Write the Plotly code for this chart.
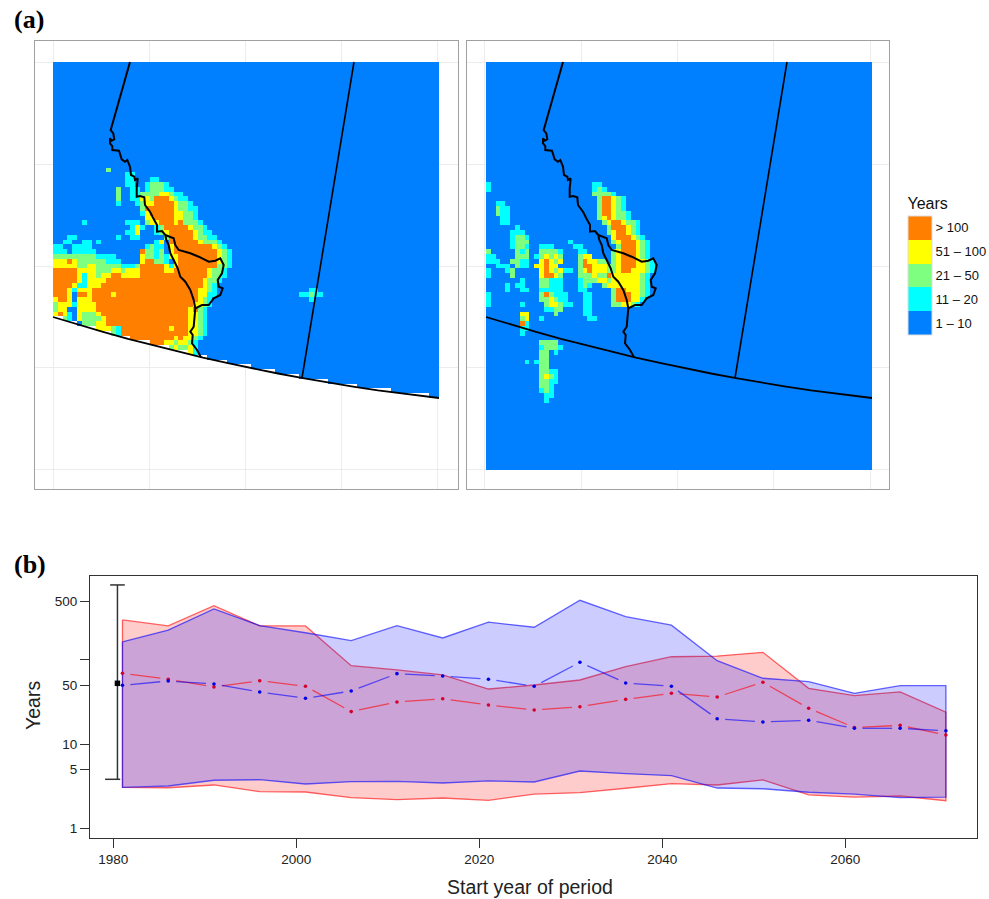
import re
import math
import plotly.graph_objects as go

# ---------- panel (b) data ----------
years = [1981, 1986, 1991, 1996, 2001, 2006, 2011, 2016, 2021, 2026, 2031, 2036, 2041, 2046, 2051, 2056, 2061, 2066, 2071]
red_upper = [298, 253, 440, 253, 253, 85.3, 75.9, 66.2, 45.1, 50.3, 57.7, 83, 109, 111, 123, 46, 37.6, 41.6, 23.9]
blue_upper = [164, 226, 402, 255, 210, 169, 255, 182, 280, 244, 510, 326, 258, 97.8, 60.5, 55.1, 40.1, 49.4, 49.4]
red_lower = [3.07, 3.03, 3.27, 2.72, 2.70, 2.31, 2.19, 2.29, 2.15, 2.55, 2.65, 2.99, 3.39, 3.27, 3.75, 2.49, 2.35, 2.42, 2.13]
blue_lower = [3.07, 3.18, 3.72, 3.78, 3.36, 3.58, 3.61, 3.45, 3.65, 3.55, 4.79, 4.45, 4.22, 3.01, 2.95, 2.68, 2.55, 2.31, 2.35]
red_mid = [69.3, 58.9, 47.7, 56.6, 48.6, 24.3, 31.6, 34.6, 29.1, 25.4, 27.8, 34.0, 40.1, 36.3, 54.2, 26.6, 15.7, 16.7, 12.8]
blue_mid = [49.9, 56.1, 51.8, 41.6, 35.0, 42.7, 68.6, 64.4, 58.9, 48.6, 93.6, 53.2, 48.6, 20.0, 18.3, 19.2, 15.4, 15.4, 14.4]
obs_year = 1980.45
obs_low, obs_mean, obs_high = 3.82, 52.7, 776
x_ticks = [1980, 2000, 2020, 2040, 2060]
y_ticks = [1, 5, 10, 50, 100, 500, 1000]
y_tick_text = ["1", "5", "10", "50", "", "500", ""]

# ---------- panel (a) data: run-length rows of map cells ----------
N_COLS, N_ROWS = 80, 85
categories = ["1 \u2013 10", "11 \u2013 20", "21 \u2013 50", "51 \u2013 100", "> 100"]
category_colors = ["#007FFF", "#00FFFF", "#7FFF7F", "#FFFF00", "#FF7F00"]

left_start_row = 22
left_rows = [
    "11. g", "15. 2c", "15. 2c 3. 2c", "15. 2c 2. c 3g c", "13. g 2. 2c . c 3g 2c",
    "13. g 2. 2c 4g 2y g 2c", "13. g 2. 2c 2y g 3o y g 2c", "13. c 3. c g 2y 4o y 2g c",
    "18. g 6o y 2g 2c", "18. c y 5o 2y 2g c", "19. 2y 4o 2y 2g c",
    "6. c 8. 3c . g 2y 3o y o 3g c", "16. c y c 2. c g 5o y 2g c",
    "15. 2c y 3. c g y 5o y g 2c", "3. 2c 8. c 2. 2c 5. g 5o y 2g 2c",
    "2. 2c 2. 2c . c 11. c y . 6o y 3g c", "2c 2. 4c 11. c g 2c . y 8o y g c",
    "3c . 5c 9. o 2g c g . y 9o y g c", "9g 4c 5. y 2g c g c 2y 8o y g c",
    "3y o y 6g 3c 4. y 2o 2g c . y 8o y g c", "5y 2g 2y 5g 3c g 5o y c y 8o 2g c",
    "5o 4y 3g 2y g 3y 5o 2y 7o y 2g c", "5o y c 2y g 2y 2o 4y 14o y 2g c",
    "5o y c 4y 20o y 2g c", "4o y 2c 3y 21o y g c", "3o y c 3y 22o 2y g c",
    "3o y . 2o y 4o y 17o 2y 2c", "y 2o y . 3y 22o y g c", "g 3y c 4y 20o 2y g c",
    "g 2y 2. 4y 19o y o g c", "y o y c . y 3g y 18o 2y g c", ". 2g c . y 4g y 17o 2y g c",
    "6. 3g 2y 17o 2y g c", "9. 3y g c 10o y 3o 2y g c", "12. g c 14o 2y g c",
    "15. 10o y o 2y g c", "18. 5o 2y g 2y g c", "23. 2g y 2g y c", "26. 2g y c",
]
left_patch_start = 47
left_patch_rows = ["53. 2c", "51. 2c g 2c", "53. c"]

right_start_row = 25
right_rows = [
    "c 21. 2c", "c 21. c g c", "22. 4g c", "23. g 2o y g c", "2. 2c 19. g 2o y g c",
    "2. g 2c 18. g 2o y g c", "2. g 2c 18. g 2o y 2g c", "3. 2c 18. g y o y 2g c",
    "3. 2c 19. g y 2o y 2g c", "6. c 18. g 3o y g c", "5. 3c 17. g y 2o y g c",
    "5. c 2g c 17. y 3o y g c", "5. c 3g 8. c 8. g y 3o y g c",
    "5. c 2g c 2. 3c 4. 2c 7. g 3o y g c", "g 5. g c g 2. 4g c 3. 2c 5. g y 3o y g c",
    "2c 4. 3g . c g y g y g 3. g 2y 4. g y 3o y g c",
    "3c 2. 2g 2c 2. y o y g y 3. g o 2y 2g . g y 3o 2y g c",
    "2. 3c . g 2c . 2y o 2y 4. g 2o 3y 2g y 3o 2y g c",
    "c 3. c g 5. y o y g y 2c . g y o 3y 2g y 2o 3y g c",
    "c 4. g 5. y 2o y g 3. 3g y 2g o 6y g c",
    "7. c 3. 2g 3c 3. c 3g 2y g 6y g c",
    "4. c . 2c 3. 2g 3c 3. c g c 2. g 7y g c",
    "4. c 2. 2c 2. 5c 3. 2c 5. g 2o 3y g c",
    "c 10. g o g 3c 3. 2c 4. g 3o 2y g c",
    "c 10. 2g y g 2c 3. 2c 4. g 3o 2y c",
    "c 6. c 4. g 2y g 2c 2. 2c 4. 2g 2y g c",
    "12. 2c 2g 4. 2c", "7. 2y 5. g 5. 2c", "7. g y 2. c 9. 2c", "7. o c", "7. 2c", "7. c",
    "", "11. 4g", "11. c 3g c", "11. 2g . c", "11. 2g", "8. c . c 2g", "11. 2g", "11. 2g 2c",
    "11. g y g c", "11. 2g 2c", "11. 2g c", "11. c g c", "12. 2c", "12. c",
]

# map outlines, in pixels from the map's top-left corner
border_x = [77, 63.7, 60.3, 57.7, 60.3, 61.3, 58.7, 57, 57, 59.3, 59.3, 66, 68.7, 72, 74.3, 77, 78, 81.3, 82, 84.7, 83.7, 83.7, 87,
            91.3, 92, 97, 100.3, 104, 104, 109, 112.3, 113.3, 115.7, 117.3, 120.7, 124.7, 127.3, 132.3, 137.3, 140.7, 142.3,
            141.7, 140.7, 137.3, 139.7, 139, 144, 148]
border_y = [0, 48, 58, 68, 71.3, 77.3, 78.7, 76.3, 81.3, 84, 88, 88.7, 97.3, 99.7, 98, 104.7, 113, 114.7, 118, 116.3, 126.3, 134.7, 134,
            135.3, 143, 149.7, 156.3, 163, 169.7, 169, 173, 178, 183, 191.3, 198, 206.3, 214.7, 219.7, 228, 238, 246.3,
            254.7, 264.7, 269.7, 273, 281.3, 288, 295.3]
branch_x = [112.3, 120.7, 122.3, 125.7, 137.3, 145.7, 155.7, 162.3, 167.3, 170.7, 169, 164.7, 165.7, 169.7, 167.3, 160.7, 155.7, 149, 142.3]
branch_y = [173, 176.3, 183, 188, 191.3, 194.7, 199.7, 198.7, 196.3, 203, 211.3, 218, 224.7, 226.3, 233, 236.3, 243, 243, 246.3]
meridian_x = [301, 249]
meridian_y = [0, 316]
coast_x = [0, 25, 50, 75, 100, 125, 150, 175, 200, 225, 250, 275, 300, 325, 350, 386]
coast_y = [255, 262.6, 269.8, 276.8, 283.3, 289.6, 295.6, 301.2, 306.5, 311.5, 316.2, 320.6, 324.6, 328.4, 331.7, 336]
grid_x_left = [0, 96, 192, 288, 384]
grid_x_right = [-2, 95, 191, 287, 384]
grid_y = [0, 102, 204, 305, 407]

# ---------- helpers ----------
CELL_W, CELL_H = 386 / N_COLS, 408 / N_ROWS
CODE = {".": 1, "c": 2, "g": 3, "y": 4, "o": 5}


def paint(grid, start_row, rows):
    for i, text in enumerate(rows):
        col = 0
        for token in text.split():
            m = re.fullmatch(r"(\d*)([.cgyo])", token)
            for _ in range(int(m.group(1) or 1)):
                if m.group(2) != "." and col < N_COLS:
                    grid[start_row + i][col] = CODE[m.group(2)]
                col += 1


def coast_at(x):
    for a in range(len(coast_x) - 1):
        if coast_x[a] <= x <= coast_x[a + 1]:
            t = (x - coast_x[a]) / (coast_x[a + 1] - coast_x[a])
            return coast_y[a] + (coast_y[a + 1] - coast_y[a]) * t
    return coast_y[-1]


W, H = 989, 899
dom_x = lambda a, b: [a / W, b / W]
dom_y = lambda top, bottom: [1 - bottom / H, 1 - top / H]

left_grid = [[1] * N_COLS for _ in range(N_ROWS)]
paint(left_grid, left_start_row, left_rows)
paint(left_grid, left_patch_start, left_patch_rows)
# the left model domain stops in whole cells just above the coast line
for c in range(N_COLS):
    edge = math.ceil((coast_at((c + 0.5) * CELL_W) - 3.5) / CELL_H)
    for r in range(edge, N_ROWS):
        left_grid[r][c] = None
right_grid = [[1] * N_COLS for _ in range(N_ROWS)]
paint(right_grid, right_start_row, right_rows)

colorscale = []
for i, col in enumerate(category_colors):
    colorscale += [[i / 5, col], [(i + 1) / 5, col]]

fig = go.Figure()
for k, (grid, xa, ya) in enumerate([(left_grid, "x", "y"), (right_grid, "x2", "y2")]):
    fig.add_trace(go.Heatmap(
        z=grid, x0=CELL_W / 2, dx=CELL_W, y0=CELL_H / 2, dy=CELL_H, xaxis=xa, yaxis=ya,
        colorscale=colorscale, zmin=0.5, zmax=5.5, showscale=k == 0, hoverongaps=False,
        colorbar=dict(
            title=dict(text="Years", side="top", font=dict(size=16, color="#111")),
            tickmode="array", tickvals=[1, 2, 3, 4, 5], ticktext=categories,
            ticks="", tickfont=dict(size=13, color="#111"),
            thickness=24, thicknessmode="pixels", len=141, lenmode="pixels",
            x=908 / W, xanchor="left", xpad=0, y=1 - 194 / H, yanchor="top", ypad=0,
            outlinecolor="#dddddd", outlinewidth=1, borderwidth=0,
        ),
    ))
    for lx, ly, lw in [(border_x, border_y, 2), (branch_x, branch_y, 2), (meridian_x, meridian_y, 1.6), (coast_x, coast_y, 1.8)]:
        fig.add_trace(go.Scatter(x=lx, y=ly, xaxis=xa, yaxis=ya, mode="lines", showlegend=False,
                                 line=dict(color="black", width=lw, shape="linear"), hoverinfo="skip"))

# panel (b)
RED_FILL, BLUE_FILL = "rgba(255,0,0,0.2)", "rgba(0,0,255,0.2)"
RED_LINE, BLUE_LINE = "rgba(255,0,0,0.6)", "rgba(0,0,255,0.6)"
for up, lo, fill, line in [(red_upper, red_lower, RED_FILL, RED_LINE), (blue_upper, blue_lower, BLUE_FILL, BLUE_LINE)]:
    fig.add_trace(go.Scatter(
        x=years + years[::-1] + years[:1], y=up + lo[::-1] + up[:1], xaxis="x3", yaxis="y3",
        mode="lines", fill="toself", fillcolor=fill, line=dict(color=line, width=1.3),
        showlegend=False, hoverinfo="skip"))

PX_YEAR, PX_DECADE, GAP = 9.15, 84.2, 8.0


def gapped(xs, ys):
    out_x, out_y = [], []
    for a in range(len(xs) - 1):
        dx = (xs[a + 1] - xs[a]) * PX_YEAR
        dy = (math.log10(ys[a + 1]) - math.log10(ys[a])) * PX_DECADE
        d = math.hypot(dx, dy)
        if d <= 2 * GAP:
            continue
        for t in (GAP / d, 1 - GAP / d):
            out_x.append(xs[a] + (xs[a + 1] - xs[a]) * t)
            out_y.append(10 ** (math.log10(ys[a]) + (math.log10(ys[a + 1]) - math.log10(ys[a])) * t))
        out_x.append(None)
        out_y.append(None)
    return out_x, out_y


for mid, line, mark in [(red_mid, RED_LINE, "#d6002a"), (blue_mid, BLUE_LINE, "#0000e6")]:
    gx, gy = gapped(years, mid)
    fig.add_trace(go.Scatter(x=gx, y=gy, xaxis="x3", yaxis="y3", mode="lines", connectgaps=False,
                             line=dict(color=line, width=1.3), showlegend=False, hoverinfo="skip"))
    fig.add_trace(go.Scatter(x=years, y=mid, xaxis="x3", yaxis="y3", mode="markers",
                             marker=dict(color=mark, size=3.6), showlegend=False, hoverinfo="skip"))

# observed range
fig.add_trace(go.Scatter(
    x=[obs_year, obs_year, None, obs_year - 0.8, obs_year + 0.8, None, obs_year - 1.35, obs_year + 0.3],
    y=[obs_low, obs_high, None, obs_high, obs_high, None, obs_low, obs_low],
    xaxis="x3", yaxis="y3", mode="lines", line=dict(color="#333333", width=1.5), showlegend=False, hoverinfo="skip"))
fig.add_trace(go.Scatter(x=[obs_year], y=[obs_mean], xaxis="x3", yaxis="y3", mode="markers",
                         marker=dict(color="black", size=5.5, symbol="square"), showlegend=False, hoverinfo="skip"))

map_axis = dict(showticklabels=False, ticks="", showgrid=True, gridcolor="#ececec", gridwidth=1.2, zeroline=False,
                showline=True, mirror=True, linecolor="#a0a0a0", linewidth=1.2, tickmode="array")
FONT = "Liberation Sans"
bottom_axis = dict(showline=True, mirror=True, linecolor="#333333", linewidth=1.2, ticks="outside", ticklen=9, tickwidth=1.2,
                   tickcolor="#333333", showgrid=False, zeroline=False, tickfont=dict(size=13.5, color="#222"))


def note(text, px, py, **kw):
    return dict(text=text, x=px / W, y=1 - py / H, xref="paper", yref="paper", showarrow=False, **kw)


fig.update_layout(
    width=W, height=H, margin=dict(l=0, r=0, t=0, b=0), autosize=False,
    paper_bgcolor="white", plot_bgcolor="white", showlegend=False,
    font=dict(family=FONT, color="#111"),
    xaxis=dict(domain=dom_x(35, 458), range=[-18, 405], tickvals=grid_x_left, **map_axis),
    yaxis=dict(domain=dom_y(41, 489), range=[427, -21], tickvals=grid_y, **map_axis),
    xaxis2=dict(domain=dom_x(467, 889), range=[-19, 403], tickvals=grid_x_right, anchor="y2", **map_axis),
    yaxis2=dict(domain=dom_y(41, 489), range=[427, -21], tickvals=grid_y, anchor="x2", **map_axis),
    xaxis3=dict(domain=dom_x(90, 977), range=[1977.45, 2074.4], tickvals=x_ticks, anchor="y3", **bottom_axis),
    yaxis3=dict(domain=dom_y(576, 838), type="log", range=[-0.115, 2.996], tickmode="array", tickvals=y_ticks,
                ticktext=y_tick_text, anchor="x3", **bottom_axis),
    annotations=[
        note("<b>(a)</b>", 12, 20, xanchor="left", yanchor="middle",
             font=dict(family="Liberation Serif", size=26, color="black")),
        note("<b>(b)</b>", 12, 564, xanchor="left", yanchor="middle",
             font=dict(family="Liberation Serif", size=26, color="black")),
        note("Start year of period", 530, 887, xanchor="center", yanchor="middle", font=dict(size=19.5, color="#222")),
        note("Years", 33, 706, xanchor="center", yanchor="middle", textangle=-90, font=dict(size=19.5, color="#222")),
    ],
)

fig.write_html("out.html", config={"displayModeBar": False},
               post_script="document.body.style.margin='0';document.body.style.overflow='hidden';")
